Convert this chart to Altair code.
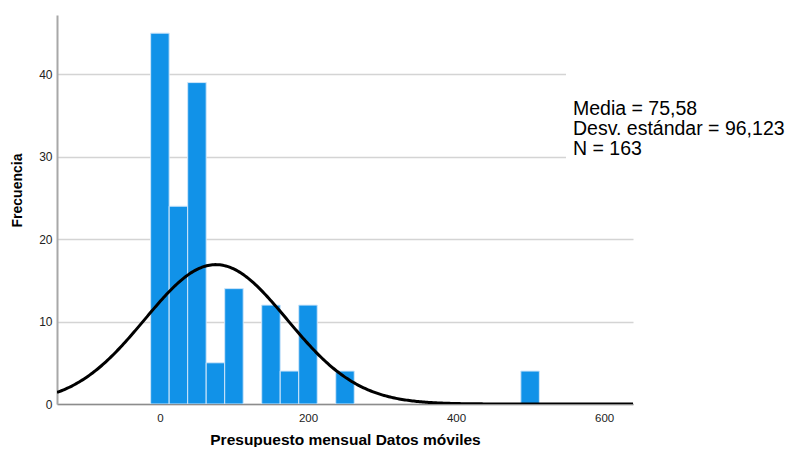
import altair as alt
import pandas as pd

# Histogram data (bin centers, width 25)
bin_centers = [0, 25, 50, 75, 100, 150, 175, 200, 250, 500]
counts = [45, 24, 39, 5, 14, 12, 4, 12, 4, 4]
bin_width = 25

# Normal curve parameters (from the chart's annotation)
mean = 75.58
sd = 96.123
n_total = 163

stats_lines = ["Media = 75,58", "Desv. estándar = 96,123", "N = 163"]

x_domain = [-139, 639]
y_domain = [0, 47.2]

bars_df = pd.DataFrame({"center": bin_centers, "count": counts})

font = "Liberation Sans"

xscale = alt.Scale(domain=x_domain, nice=False, zero=False)
yscale = alt.Scale(domain=y_domain, nice=False)

bars = alt.Chart(bars_df).transform_calculate(
    x0=f"datum.center - {bin_width}/2",
    x1=f"datum.center + {bin_width}/2",
).mark_bar(color="#1192e8", stroke="#cfe6fa", strokeWidth=1, clip=True).encode(
    x=alt.X("x0:Q", scale=xscale,
            axis=alt.Axis(values=[0, 200, 400, 600], title="Presupuesto mensual Datos móviles",
                          grid=False, ticks=False, domainColor="#8c8c8c", domainWidth=1.5,
                          labelFont=font, labelFontSize=11.5, labelColor="#222", labelPadding=8,
                          titleFont=font, titleFontSize=15.5, titleFontWeight="bold",
                          titleColor="#000", titleBaseline="alphabetic", titleY=40)),
    x2="x1:Q",
    y=alt.Y("count:Q", scale=yscale,
            axis=alt.Axis(values=[0, 10, 20, 30, 40], title="Frecuencia",
                          grid=True, gridColor="#d4d4d4", gridWidth=1.5, ticks=False,
                          domainColor="#a8a8a8", domainWidth=2,
                          labelFont=font, labelFontSize=12, labelColor="#222", labelPadding=5,
                          titleFont=font, titleFontSize=14, titleFontWeight="bold",
                          titleColor="#000", titlePadding=14, titleY=175)),
    y2=alt.datum(0),
)

curve = alt.Chart(alt.sequence(-139, 640, 2, as_="x")).transform_calculate(
    y=f"{n_total}*{bin_width}/({sd}*sqrt(2*PI))*exp(-0.5*pow((datum.x-{mean})/{sd},2))"
).mark_line(color="#000", strokeWidth=3, clip=True).encode(
    x=alt.X("x:Q", scale=xscale),
    y=alt.Y("y:Q", scale=yscale),
)

cover = alt.Chart(pd.DataFrame({"k": [0]})).mark_rect(color="white", clip=False).encode(
    x=alt.value(509), x2=alt.value(600), y=alt.value(45), y2=alt.value(160)
)

label = alt.Chart(pd.DataFrame({"k": [0]})).mark_text(
    text=stats_lines, align="left", baseline="alphabetic", font=font,
    fontSize=19.5, lineHeight=20, color="#000", clip=False
).encode(x=alt.value(516), y=alt.value(100))

chart = alt.layer(bars, cover, curve, label).properties(
    width=576, height=389,
    autosize=alt.AutoSizeParams(type="none"),
    padding={"left": 49, "top": 7, "right": 153, "bottom": 43},
).configure_view(stroke=None)

chart.save("out.html", embed_options={"renderer": "svg", "actions": False})
